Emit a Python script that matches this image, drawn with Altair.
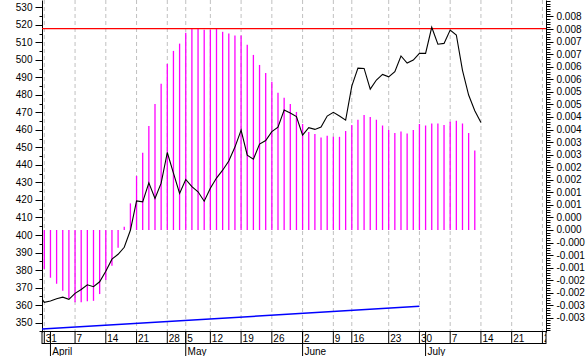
import json
import altair as alt
import pandas as pd

# ---------------- data (x = trading-day index, 0 = 31 March) ----------------
price_first_index = -1
price = [366.5, 361.6, 362.3, 363.6, 364.5, 363.3, 366.7, 368.9, 371.6, 370.5,
         373.3, 379.3, 386.2, 389.0, 393.0, 402.7, 419.5, 418.9, 429.8, 420.9,
         429.6, 447.1, 435.3, 423.7, 431.7, 427.6, 424.7, 419.3, 426.7, 432.5,
         437.0, 442.2, 450.2, 459.9, 445.6, 443.3, 451.9, 453.9, 459.0, 461.6,
         471.3, 469.6, 467.6, 457.0, 461.3, 460.3, 461.6, 467.9, 470.0, 467.9,
         465.6, 485.0, 495.3, 495.1, 483.3, 488.5, 491.7, 490.3, 493.3, 502.2,
         498.2, 499.9, 503.7, 503.7, 518.6, 508.9, 509.4, 517.0, 514.2, 494.0,
         479.9, 471.0, 464.2]

# oscillator bars (units of 0.001), index 0..70
bar_values = [-1.55, -1.90, -2.14, -2.42, -2.72, -2.88, -2.88, -2.84, -2.82, -2.55,
              -1.99, -1.42, -0.71, 0.13, 1.06, 2.15, 3.08, 4.14, 5.02, 5.82,
              6.61, 7.13, 7.42, 7.85, 8.02, 8.02, 7.97, 7.97, 8.02, 7.89,
              7.82, 7.74, 7.74, 7.37, 6.97, 6.57, 6.25, 5.90, 5.46, 5.26,
              5.02, 4.70, 4.22, 3.90, 3.82, 3.68, 3.75, 3.71, 3.71, 3.94,
              4.18, 4.39, 4.58, 4.50, 4.39, 4.16, 3.98, 3.86, 3.92, 3.84,
              3.98, 4.22, 4.16, 4.24, 4.24, 4.18, 4.31, 4.35, 4.24, 3.86, 3.16]
bar_unit = 0.001
ref_level = 0.00802

trend_index = [-1, 61]
trend_values = [346.2, 359.3]

week_index = [0, 5, 10, 15, 20, 23, 27, 32, 37, 42, 47, 50, 56, 61, 66, 71, 76, 81]
week_labels = ["31", "7", "14", "21", "28", "5", "12", "19", "26", "2", "9", "16",
               "23", "30", "7", "14", "21", "28"]
month_index = [1, 23, 42, 62]
month_labels = ["April", "May", "June", "July"]

left_ticks = [350, 360, 370, 380, 390, 400, 410, 420, 430, 440, 450, 460, 470,
              480, 490, 500, 510, 520, 530]
left_minor = [v + 5 for v in left_ticks[:-1]] + [345]
right_ticks = [round(k * 0.0005, 4) for k in range(-7, 18)]
right_labels = ["-0.003", "-0.003", "-0.002", "-0.002", "-0.001", "-0.001", "-0.000",
                "0.000", "0.000", "0.001", "0.001", "0.002", "0.002", "0.003", "0.003",
                "0.004", "0.004", "0.005", "0.005", "0.006", "0.006", "0.007", "0.007",
                "0.008", "0.008"]
right_minor = [round(k * 0.0001, 4) for k in range(-40, 92)]

X_DOMAIN = [-0.374, 81.58]
LEFT_DOMAIN = [344.63, 534.17]
RIGHT_DOMAIN = [-0.0040605, 0.009156]

W, H_PLOT, H_TOTAL = 504, 332, 356
FONT = "Liberation Sans"

# ---------------- tables ----------------
price_df = pd.DataFrame({"i": list(range(price_first_index, price_first_index + len(price))),
                         "price": price})
bar_df = pd.DataFrame({"i": list(range(len(bar_values))),
                       "v": [b * bar_unit for b in bar_values],
                       "base": [0.0] * len(bar_values)})
trend_df = pd.DataFrame({"i": trend_index, "v": trend_values})
week_df = pd.DataFrame({"i": week_index, "label": week_labels})
month_df = pd.DataFrame({"i": month_index, "label": month_labels})
ref_df = pd.DataFrame({"level": [ref_level]})
one = pd.DataFrame({"a": [0]})

xs = alt.Scale(domain=X_DOMAIN, nice=False, zero=False)
ys_left = alt.Scale(domain=LEFT_DOMAIN, range=[H_PLOT, 0], nice=False, zero=False)
ys_right = alt.Scale(domain=RIGHT_DOMAIN, range=[H_PLOT, 0], nice=False, zero=False)

X = alt.X("i:Q", scale=xs, axis=None)

disp_labels = [l if l.startswith("-") else "\u00a0" + l for l in right_labels]
label_expr = "%s[indexof(%s, datum.value)]" % (json.dumps(disp_labels, ensure_ascii=False),
                                               json.dumps(right_ticks))

common_axis = dict(title=None, grid=False, labelFont=FONT, labelFontSize=10,
                   labelColor="black", tickColor="black", domainColor="black",
                   labelOverlap=False, labelFlush=False, labelBound=False)

left_axis = alt.Axis(orient="left", values=left_ticks, tickSize=7, labelPadding=3,
                     **common_axis)
left_minor_axis = alt.Axis(orient="left", values=left_minor, tickSize=3, labels=False,
                           domain=False, title=None, grid=False, tickColor="black")
right_axis = alt.Axis(orient="right", values=right_ticks, tickSize=7, labelPadding=3,
                      labelExpr=label_expr, labelAlign="left", **common_axis)
right_minor_axis = alt.Axis(orient="right", values=right_minor, tickSize=4, labels=False,
                            domain=False, title=None, grid=False, tickColor="black")

grid = alt.Chart(week_df).mark_rule(color="#C0C0C0", strokeDash=[4, 3], strokeWidth=1).encode(
    x=X, y=alt.value(0), y2=alt.value(H_PLOT))

bars = alt.Chart(bar_df).mark_rule(color="#FF00FF", strokeWidth=1.3).encode(
    x=X, y=alt.Y("v:Q", scale=ys_right, axis=right_axis), y2="base:Q")

ref = alt.Chart(ref_df).mark_rule(color="#FF0000", strokeWidth=1.3).encode(
    y=alt.Y("level:Q", scale=ys_right, axis=right_minor_axis))

line = alt.Chart(price_df).mark_line(color="black", strokeWidth=1.1, clip=True).encode(
    x=X, y=alt.Y("price:Q", scale=ys_left, axis=left_axis), order="i:Q")

trend = alt.Chart(trend_df).mark_line(color="#0000FF", strokeWidth=1.5, clip=True).encode(
    x=X, y=alt.Y("v:Q", scale=ys_left, axis=left_minor_axis))

# date band under the plot
hline1 = alt.Chart(one).mark_rule(color="black").encode(
    x=alt.value(0), x2=alt.value(W), y=alt.value(331.5))
hline2 = alt.Chart(one).mark_rule(color="black").encode(
    x=alt.value(0), x2=alt.value(W), y=alt.value(343.5))
edge_l = alt.Chart(one).mark_rule(color="black").encode(
    x=alt.value(0), y=alt.value(331.5), y2=alt.value(344))
edge_r = alt.Chart(one).mark_rule(color="black").encode(
    x=alt.value(W), y=alt.value(331.5), y2=alt.value(344))
day_ticks = alt.Chart(week_df).mark_rule(color="black").encode(
    x=X, y=alt.value(331.5), y2=alt.value(344))
month_ticks = alt.Chart(month_df).mark_rule(color="black").encode(
    x=X, y=alt.value(331.5), y2=alt.value(H_TOTAL))
day_text = alt.Chart(week_df).mark_text(align="left", baseline="alphabetic", dx=1.5,
                                        font=FONT, fontSize=10, color="black", clip=True).encode(
    x=X, y=alt.value(341.5), text="label:N")
month_text = alt.Chart(month_df).mark_text(align="left", baseline="alphabetic", dx=1.8,
                                           font=FONT, fontSize=10, color="black", clip=True).encode(
    x=X, y=alt.value(355), text="label:N")

chart = alt.layer(
    grid, bars, ref, line, trend,
    hline1, hline2, edge_l, edge_r, day_ticks, month_ticks, day_text, month_text
).resolve_scale(y="independent").properties(
    width=W, height=H_TOTAL,
    autosize=alt.AutoSizeParams(type="none"),
    padding={"left": 42, "right": 41, "top": 0, "bottom": 0},
    background="white",
).configure_view(strokeWidth=0)

chart.save("out.html", embed_options={"renderer": "svg", "actions": False})
